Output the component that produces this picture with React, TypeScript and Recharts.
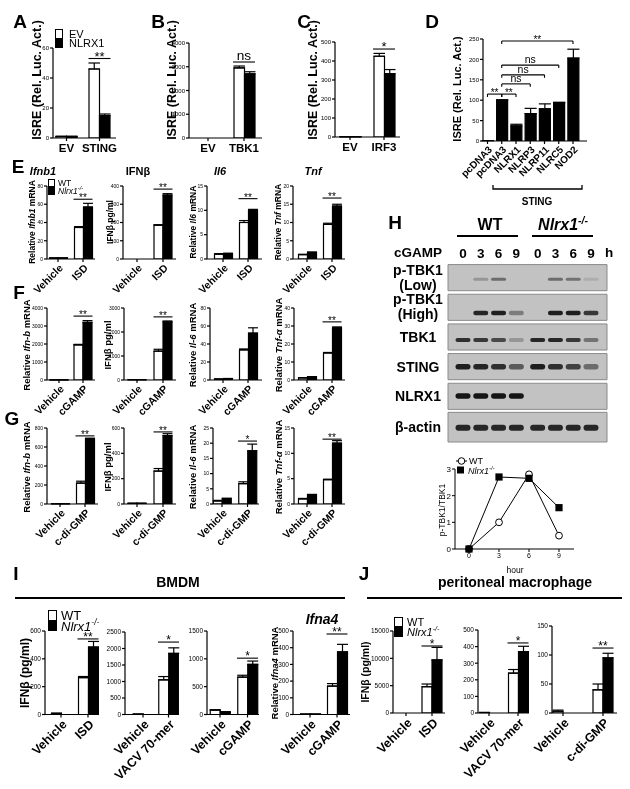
import React from 'react';
import { BarChart, Bar, XAxis, YAxis, ErrorBar, ReferenceLine, LineChart, Line, ScatterChart, Scatter, ReferenceArea } from 'recharts';

const FONT = "'Liberation Sans', Arial, Helvetica, sans-serif";

// ---------------- DATA ----------------
// A
const A_CATS = ['EV', 'STING'];
const A_EV = [1, 46];
const A_EV_SEM = [0.2, 4];
const A_NLRX1 = [1, 15];
const A_NLRX1_SEM = [0.2, 1];
const A_SIG = { level: 53, text: '**' };
// B
const B_CATS = ['EV', 'TBK1'];
const B_EV = [0, 2950];
const B_EV_SEM = [0, 80];
const B_NLRX1 = [0, 2700];
const B_NLRX1_SEM = [0, 90];
const B_SIG = { level: 3200, text: 'ns' };
// C
const C_CATS = ['EV', 'IRF3'];
const C_EV = [1, 425];
const C_EV_SEM = [0, 15];
const C_NLRX1 = [1, 333];
const C_NLRX1_SEM = [0, 22];
const C_SIG = { level: 463, text: '*' };
// D
const D_CATS = ['pcDNA3', 'pcDNA3', 'NLRX1', 'NLRP3', 'NLRP11', 'NLRC5', 'NOD2'];
const D_VALUES = [1, 100, 37, 67, 79, 94, 203];
const D_SEM = [0, 1, 4, 13, 12, 1, 22];
const D_BRACKETS = [
  { from: 2, to: 7, level: 245, text: '**' },
  { from: 2, to: 6, level: 186, text: 'ns' },
  { from: 2, to: 5, level: 162, text: 'ns' },
  { from: 2, to: 4, level: 140, text: 'ns' },
  { from: 1, to: 2, level: 115, text: '**' },
  { from: 2, to: 3, level: 115, text: '**' },
];
// E (ISD)
const E_CATS = ['Vehicle', 'ISD'];
const E_IFNB1_WT = [1, 34.5];
const E_IFNB1_WT_SEM = [0.2, 1];
const E_IFNB1_KO = [1, 57];
const E_IFNB1_KO_SEM = [0.2, 4];
const E_IFNB_WT = [0, 185];
const E_IFNB_WT_SEM = [0, 3];
const E_IFNB_KO = [0, 350];
const E_IFNB_KO_SEM = [0, 8];
const E_IL6_WT = [1.0, 7.5];
const E_IL6_WT_SEM = [0.1, 0.4];
const E_IL6_KO = [1.1, 10.0];
const E_IL6_KO_SEM = [0.1, 0.2];
const E_TNF_WT = [1.2, 9.5];
const E_TNF_WT_SEM = [0.1, 0.3];
const E_TNF_KO = [1.8, 14.5];
const E_TNF_KO_SEM = [0.1, 0.5];
const E_SIGS = [65.5, 383, 12.4, 16.7];
// F (cGAMP)
const F_CATS = ['Vehicle', 'cGAMP'];
const F_IFNB_MRNA_WT = [5, 1950];
const F_IFNB_MRNA_WT_SEM = [0, 30];
const F_IFNB_MRNA_KO = [5, 3200];
const F_IFNB_MRNA_KO_SEM = [0, 100];
const F_IFNB_WT = [10, 1200];
const F_IFNB_WT_SEM = [0, 80];
const F_IFNB_KO = [10, 2420];
const F_IFNB_KO_SEM = [0, 40];
const F_IL6_WT = [1, 33.5];
const F_IL6_WT_SEM = [0.1, 1];
const F_IL6_KO = [1.5, 52];
const F_IL6_KO_SEM = [0.2, 6];
const F_TNF_WT = [1.2, 15];
const F_TNF_WT_SEM = [0.1, 0.3];
const F_TNF_KO = [1.8, 29];
const F_TNF_KO_SEM = [0.1, 0.5];
const F_SIGS = [3550, 2630, 0, 32.3];
// G (c-di-GMP)
const G_CATS = ['Vehicle', 'c-di-GMP'];
const G_IFNB_MRNA_WT = [2, 220];
const G_IFNB_MRNA_WT_SEM = [0, 20];
const G_IFNB_MRNA_KO = [2, 685];
const G_IFNB_MRNA_KO_SEM = [0, 8];
const G_IFNB_WT = [5, 260];
const G_IFNB_WT_SEM = [1, 20];
const G_IFNB_KO = [5, 540];
const G_IFNB_KO_SEM = [1, 15];
const G_IL6_WT = [1.0, 6.7];
const G_IL6_WT_SEM = [0.2, 0.6];
const G_IL6_KO = [1.8, 17.5];
const G_IL6_KO_SEM = [0.1, 2.2];
const G_TNF_WT = [1.0, 4.8];
const G_TNF_WT_SEM = [0.1, 0.1];
const G_TNF_KO = [1.8, 12];
const G_TNF_KO_SEM = [0.1, 0.5];
const G_SIGS = [717, 569, 20.7, 12.8];
// H
const H_HOURS = [0, 3, 6, 9];
const H_RATIO_WT = [0, 1.0, 2.8, 0.5];
const H_RATIO_KO = [0, 2.7, 2.65, 1.55];
const H_LANE_HOURS = ['0', '3', '6', '9'];
const H_ROW_LABELS = [['p-TBK1', '(Low)'], ['p-TBK1', '(High)'], ['TBK1'], ['STING'], ['NLRX1'], ['β-actin']];
const H_WT_BANDS = [
  [0, 0.25, 0.5, 0],
  [0, 0.9, 0.95, 0.4],
  [0.85, 0.8, 0.7, 0.25],
  [0.95, 0.9, 0.85, 0.6],
  [1, 1, 1, 1],
  [0.9, 0.9, 0.9, 0.9],
];
const H_KO_BANDS = [
  [0, 0.5, 0.45, 0.12],
  [0, 0.95, 0.95, 0.8],
  [0.9, 0.9, 0.8, 0.45],
  [0.95, 0.85, 0.75, 0.5],
  [0, 0, 0, 0],
  [0.9, 0.9, 0.9, 0.9],
];
// I (BMDM)
const I_ISD_CATS = ['Vehicle', 'ISD'];
const I_ISD_WT = [8, 265];
const I_ISD_WT_SEM = [1, 8];
const I_ISD_KO = [0, 485];
const I_ISD_KO_SEM = [0, 40];
const I_VACV_CATS = ['Vehicle', 'VACV 70-mer'];
const I_VACV_WT = [10, 1050];
const I_VACV_WT_SEM = [0, 100];
const I_VACV_KO = [0, 1850];
const I_VACV_KO_SEM = [0, 170];
const I_CGAMP_CATS = ['Vehicle', 'cGAMP'];
const I_CGAMP_WT = [80, 670];
const I_CGAMP_WT_SEM = [5, 35];
const I_CGAMP_KO = [45, 900];
const I_CGAMP_KO_SEM = [5, 60];
const I_IFNA4_WT = [2, 170];
const I_IFNA4_WT_SEM = [0, 15];
const I_IFNA4_KO = [2, 375];
const I_IFNA4_KO_SEM = [0, 45];
const I_SIGS = [543, 2195, 1012, 482];
// J (peritoneal macrophage)
const J_ISD_CATS = ['Vehicle', 'ISD'];
const J_ISD_WT = [0, 4800];
const J_ISD_WT_SEM = [0, 500];
const J_ISD_KO = [0, 9700];
const J_ISD_KO_SEM = [0, 2300];
const J_VACV_CATS = ['Vehicle', 'VACV 70-mer'];
const J_VACV_WT = [3, 240];
const J_VACV_WT_SEM = [0, 22];
const J_VACV_KO = [0, 370];
const J_VACV_KO_SEM = [0, 32];
const J_CDG_CATS = ['Vehicle', 'c-di-GMP'];
const J_CDG_WT = [3, 40];
const J_CDG_WT_SEM = [2, 10];
const J_CDG_KO = [0, 95];
const J_CDG_KO_SEM = [0, 8];
const J_SIGS = [12256, 422, 112];

// ---------------- helpers ----------------
type Series = { key: string; vals: number[]; sem: number[]; fill: string };
type Bracket = { from: number; to: number; level: number; text: string };
type Cfg = {
  x0: number; xe: number; c1: number; cN: number; yTop: number; yBot: number;
  max: number; ticks: number[]; cats: string[]; series: Series[];
  barW: number; tickFs: number; catFs: number; rotate: boolean;
  sig?: { level: number; text: string }; brackets?: Bracket[];
  starFs?: number; drop?: number;
};

const pair = (wt: number[], wtSem: number[], ko: number[], koSem: number[]): Series[] => [
  { key: 'wt', vals: wt, sem: wtSem, fill: '#fff' },
  { key: 'ko', vals: ko, sem: koSem, fill: '#000' },
];
const ticksBy = (max: number, step: number) => {
  const t: number[] = [];
  for (let v = 0; v <= max + 1e-9; v += step) t.push(v);
  return t;
};

function BarPanel({ cfg }: { cfg: Cfg }) {
  const ML = 46, MR = 10, MT = 30, XH = 95;
  const n = cfg.cats.length;
  const u = (cfg.cN - cfg.c1) / (n - 1);
  const d0 = 1 - (cfg.c1 - cfg.x0) / u;
  const d1 = n + (cfg.xe - cfg.cN) / u;
  const data = cfg.cats.map((c, i) => {
    const row: any = { pos: i + 1, name: c };
    cfg.series.forEach((s) => {
      row[s.key] = s.vals[i];
      row[s.key + 'E'] = [0, s.sem[i]];
    });
    return row;
  });
  const plotH = cfg.yBot - cfg.yTop;
  const width = cfg.xe - cfg.x0 + ML + MR;
  const height = MT + plotH + XH;
  const brackets: (Bracket & { drop: number })[] = [];
  if (cfg.sig) {
    const h = (cfg.barW + 0.5) / u;
    brackets.push({ from: n - h, to: n + h, level: cfg.sig.level, text: cfg.sig.text, drop: 0 });
  }
  (cfg.brackets || []).forEach((b) => brackets.push({ ...b, drop: cfg.drop || 0 }));
  const starFs = cfg.starFs || 10;
  const Tick = (p: any) => {
    const lab = cfg.cats[Math.round(p.payload.value) - 1] ?? '';
    if (cfg.rotate) {
      return (
        <g transform={`translate(${p.x},${p.y})`}>
          <text x={0} y={0} dy={cfg.catFs * 0.75} textAnchor="end" transform="rotate(-45)" fontSize={cfg.catFs} fontWeight="bold" fill="#000" fontFamily={FONT}>{lab}</text>
        </g>
      );
    }
    return <text x={p.x} y={p.y} dy={cfg.catFs * 0.85} textAnchor="middle" fontSize={cfg.catFs} fontWeight="bold" fill="#000" fontFamily={FONT}>{lab}</text>;
  };
  return (
    <div style={{ position: 'absolute', left: cfg.x0 - ML, top: cfg.yTop - MT }}>
      <BarChart width={width} height={height} data={data} margin={{ top: MT, right: MR, left: 0, bottom: 0 }} barGap={0}>
        <XAxis type="number" dataKey="pos" domain={[d0, d1]} allowDataOverflow ticks={cfg.cats.map((_, i) => i + 1)} interval={0} height={XH} tickSize={3} tickMargin={1} stroke="#000" strokeWidth={1.2} tick={Tick} />
        <YAxis type="number" domain={[0, cfg.max]} allowDataOverflow ticks={cfg.ticks} interval={0} width={ML} tickSize={3} tickMargin={1} stroke="#000" strokeWidth={1.2} tick={{ fontSize: cfg.tickFs, fill: '#000', fontFamily: FONT }} />
        {cfg.series.map((s) => (
          <Bar key={s.key} dataKey={s.key} fill={s.fill} stroke="#000" strokeWidth={1.2} barSize={cfg.barW} isAnimationActive={false}>
            <ErrorBar dataKey={s.key + 'E'} width={cfg.barW * 0.55} stroke="#000" strokeWidth={1.2} direction="y" />
          </Bar>
        ))}
        {brackets.map((b, i) => (
          <ReferenceLine key={'b' + i} segment={[{ x: b.from, y: b.level }, { x: b.to, y: b.level }]} stroke="#000" strokeWidth={1.1} ifOverflow="visible"
            label={{ value: b.text, position: 'top', offset: b.text === 'ns' ? 2 : -2, fontSize: b.text === 'ns' ? starFs * 1.05 : starFs, fill: '#000', fontFamily: FONT }} />
        ))}
        {brackets.filter((b) => b.drop > 0).flatMap((b, i) => [
          <ReferenceLine key={'dl' + i} segment={[{ x: b.from, y: b.level }, { x: b.from, y: b.level - b.drop }]} stroke="#000" strokeWidth={1.1} ifOverflow="visible" />,
          <ReferenceLine key={'dr' + i} segment={[{ x: b.to, y: b.level }, { x: b.to, y: b.level - b.drop }]} stroke="#000" strokeWidth={1.1} ifOverflow="visible" />,
        ])}
      </BarChart>
    </div>
  );
}

function Txt({ x, y, fs, bold = false, italic = false, rot = false, anchor = 'middle', children }: any) {
  const tx = anchor === 'middle' ? '-50%' : anchor === 'start' ? '0' : '-100%';
  return (
    <div style={{
      position: 'absolute', left: x, top: y,
      transform: rot ? 'translate(-50%,-50%) rotate(-90deg)' : `translate(${tx},-50%)`,
      fontSize: fs, fontWeight: bold ? 700 : 400, fontStyle: italic ? 'italic' : 'normal',
      whiteSpace: 'nowrap', lineHeight: 1, color: '#000',
    }}>{children}</div>
  );
}

const KO = <i>Nlrx1<sup style={{ fontSize: '0.65em', lineHeight: 0 }}>-/-</sup></i>;

function BoxLegend({ x, y, w, h, fs, gap, labels }: any) {
  return (
    <>
      <div style={{ position: 'absolute', left: x, top: y, width: w, height: h, border: '1.3px solid #000', boxSizing: 'border-box', background: '#fff' }} />
      <div style={{ position: 'absolute', left: x, top: y + h, width: w, height: h, background: '#000' }} />
      <Txt x={x + w + gap} y={y + h * 0.5} fs={fs} anchor="start">{labels[0]}</Txt>
      <Txt x={x + w + gap} y={y + h * 1.5} fs={fs} anchor="start">{labels[1]}</Txt>
    </>
  );
}

function HLine({ x1, x2, y, w = 1.5 }: any) {
  return <div style={{ position: 'absolute', left: x1, top: y - w / 2, width: x2 - x1, height: w, background: '#000' }} />;
}

// --------- H: time course line chart ---------
function RatioChart() {
  const ML = 40, MT = 20, MR = 14, XH = 26;
  const left = 455, right = 574, top = 469, bot = 549;
  const data = H_HOURS.map((h, i) => ({ h, wt: H_RATIO_WT[i], ko: H_RATIO_KO[i] }));
  const OpenDot = (p: any) => <circle key={'o' + p.index} cx={p.cx} cy={p.cy} r={3.4} fill="#fff" stroke="#000" strokeWidth={1} />;
  const SqDot = (p: any) => <rect key={'s' + p.index} x={p.cx - 3.6} y={p.cy - 3.6} width={7.2} height={7.2} fill="#000" />;
  return (
    <div style={{ position: 'absolute', left: left - ML, top: top - MT }}>
      <LineChart width={right - left + ML + MR} height={bot - top + MT + XH} data={data} margin={{ top: MT, right: MR, left: 0, bottom: 0 }}>
        <XAxis type="number" dataKey="h" domain={[-1.4, 10.5]} allowDataOverflow ticks={[0, 3, 6, 9]} interval={0} height={XH} tickSize={3} tickMargin={1} stroke="#000" tick={{ fontSize: 7, fill: '#000', fontFamily: FONT }} />
        <YAxis type="number" domain={[0, 3]} ticks={[0, 1, 2, 3]} interval={0} width={ML} tickSize={3} tickMargin={1} stroke="#000" tick={{ fontSize: 8, fill: '#000', fontFamily: FONT }} />
        <Line dataKey="wt" stroke="#000" strokeWidth={1} dot={OpenDot} isAnimationActive={false} />
        <Line dataKey="ko" stroke="#000" strokeWidth={1} dot={SqDot} isAnimationActive={false} />
      </LineChart>
    </div>
  );
}

// --------- H: western blot ---------
function Blot() {
  const L = 448, R = 607, T = 264, B = 442, XH = 22;
  const laneX = (g: number, l: number) => 1 + g * 4.2 + l;
  const u = (591 - 463) / 7.2;
  const d0 = 1 - (463 - L) / u;
  const d1 = 8.2 + (R - 591) / u;
  const offs = [0.51, 0.65, 0.56, 0.46, 0.45, 0.52];
  const thick = [3, 4.5, 4, 5.5, 5.5, 6];
  const bands: any[] = [];
  H_ROW_LABELS.forEach((_, r) => {
    [H_WT_BANDS, H_KO_BANDS].forEach((src, g) => {
      src[r].forEach((v, l) => {
        if (v > 0) bands.push({ x: laneX(g, l), y: r + offs[r], v, t: thick[r] });
      });
    });
  });
  const ticks = [0, 1].flatMap((g) => [0, 1, 2, 3].map((l) => laneX(g, l)));
  const BandShape = (p: any) => (
    <rect x={p.cx - 7.5} y={p.cy - p.payload.t / 2} width={15} height={p.payload.t} rx={p.payload.t / 2}
      fill="#151515" fillOpacity={p.payload.v} style={{ filter: 'blur(0.45px)' }} />
  );
  const LaneTick = (p: any) => {
    const idx = ticks.findIndex((t) => Math.abs(t - p.payload.value) < 1e-6);
    return <text x={p.x} y={p.y} textAnchor="middle" fontSize={13.5} fontWeight="bold" fill="#000" fontFamily={FONT}>{H_LANE_HOURS[idx % 4]}</text>;
  };
  return (
    <div style={{ position: 'absolute', left: L, top: T - XH }}>
      <ScatterChart width={R - L} height={B - T + XH} margin={{ top: 0, right: 0, left: 0, bottom: 0 }}>
        <XAxis type="number" dataKey="x" orientation="top" domain={[d0, d1]} allowDataOverflow ticks={ticks} interval={0} height={XH} axisLine={false} tickLine={false} tickSize={0} tickMargin={6} tick={LaneTick} />
        <YAxis type="number" dataKey="y" domain={[0, 6]} reversed hide width={0} allowDataOverflow />
        {H_ROW_LABELS.map((_, r) => (
          <ReferenceArea key={'ra' + r} x1={d0} x2={d1} y1={r === 5 ? 5 : r + 0.02} y2={r === 5 ? 6 : r + 0.9}
            fill="#c2c2c2" fillOpacity={1} stroke="#8a8a8a" strokeWidth={1} ifOverflow="visible" />
        ))}
        <Scatter data={bands} shape={BandShape} isAnimationActive={false} />
      </ScatterChart>
    </div>
  );
}

// ---------------- configs ----------------
const E_Y = { yTop: 186, yBot: 259 };
const F_Y = { yTop: 308, yBot: 380 };
const G_Y = { yTop: 428, yBot: 504 };
const small = { barW: 9, tickFs: 5, catFs: 10.5, rotate: true, starFs: 10 };

const cfgA: Cfg = { x0: 53, xe: 116, c1: 66.5, cN: 99.5, yTop: 48, yBot: 138, max: 60, ticks: ticksBy(60, 20), cats: A_CATS,
  series: pair(A_EV, A_EV_SEM, A_NLRX1, A_NLRX1_SEM), barW: 10.5, tickFs: 6, catFs: 11.5, rotate: false, sig: A_SIG, starFs: 13 };
const cfgB: Cfg = { x0: 189, xe: 262, c1: 208, cN: 244, yTop: 43, yBot: 138, max: 4000, ticks: ticksBy(4000, 1000), cats: B_CATS,
  series: pair(B_EV, B_EV_SEM, B_NLRX1, B_NLRX1_SEM), barW: 10.5, tickFs: 6, catFs: 11.5, rotate: false, sig: B_SIG, starFs: 13 };
const cfgC: Cfg = { x0: 335, xe: 400, c1: 350, cN: 384, yTop: 42, yBot: 137, max: 500, ticks: ticksBy(500, 100), cats: C_CATS,
  series: pair(C_EV, C_EV_SEM, C_NLRX1, C_NLRX1_SEM), barW: 10.5, tickFs: 6, catFs: 11.5, rotate: false, sig: C_SIG, starFs: 13 };
const cfgD: Cfg = { x0: 483, xe: 587, c1: 487.5, cN: 573, yTop: 39, yBot: 141, max: 250, ticks: ticksBy(250, 50), cats: D_CATS,
  series: [{ key: 'v', vals: D_VALUES, sem: D_SEM, fill: '#000' }], barW: 11, tickFs: 6, catFs: 10, rotate: true,
  brackets: D_BRACKETS, starFs: 10, drop: 7 };

const cfgE: Cfg[] = [
  { x0: 47, xe: 95, c1: 58, cN: 83, ...E_Y, max: 80, ticks: ticksBy(80, 20), cats: E_CATS, series: pair(E_IFNB1_WT, E_IFNB1_WT_SEM, E_IFNB1_KO, E_IFNB1_KO_SEM), ...small, sig: { level: E_SIGS[0], text: '**' } },
  { x0: 123, xe: 176, c1: 137, cN: 163, ...E_Y, max: 400, ticks: ticksBy(400, 100), cats: E_CATS, series: pair(E_IFNB_WT, E_IFNB_WT_SEM, E_IFNB_KO, E_IFNB_KO_SEM), ...small, sig: { level: E_SIGS[1], text: '**' } },
  { x0: 207, xe: 262, c1: 223, cN: 248, ...E_Y, max: 15, ticks: ticksBy(15, 5), cats: E_CATS, series: pair(E_IL6_WT, E_IL6_WT_SEM, E_IL6_KO, E_IL6_KO_SEM), ...small, sig: { level: E_SIGS[2], text: '**' } },
  { x0: 293, xe: 345, c1: 307, cN: 332, ...E_Y, max: 20, ticks: ticksBy(20, 5), cats: E_CATS, series: pair(E_TNF_WT, E_TNF_WT_SEM, E_TNF_KO, E_TNF_KO_SEM), ...small, sig: { level: E_SIGS[3], text: '**' } },
];
const cfgF: Cfg[] = [
  { x0: 47, xe: 95, c1: 59, cN: 83, ...F_Y, max: 4000, ticks: ticksBy(4000, 1000), cats: F_CATS, series: pair(F_IFNB_MRNA_WT, F_IFNB_MRNA_WT_SEM, F_IFNB_MRNA_KO, F_IFNB_MRNA_KO_SEM), ...small, sig: { level: F_SIGS[0], text: '**' } },
  { x0: 124, xe: 176, c1: 137, cN: 163, ...F_Y, max: 3000, ticks: ticksBy(3000, 1000), cats: F_CATS, series: pair(F_IFNB_WT, F_IFNB_WT_SEM, F_IFNB_KO, F_IFNB_KO_SEM), ...small, sig: { level: F_SIGS[1], text: '**' } },
  { x0: 210, xe: 262, c1: 223, cN: 248, ...F_Y, max: 80, ticks: ticksBy(80, 20), cats: F_CATS, series: pair(F_IL6_WT, F_IL6_WT_SEM, F_IL6_KO, F_IL6_KO_SEM), ...small },
  { x0: 294, xe: 345, c1: 307, cN: 332, ...F_Y, max: 40, ticks: ticksBy(40, 10), cats: F_CATS, series: pair(F_TNF_WT, F_TNF_WT_SEM, F_TNF_KO, F_TNF_KO_SEM), ...small, sig: { level: F_SIGS[3], text: '**' } },
];
const cfgG: Cfg[] = [
  { x0: 47, xe: 98, c1: 60, cN: 85, ...G_Y, max: 800, ticks: ticksBy(800, 200), cats: G_CATS, series: pair(G_IFNB_MRNA_WT, G_IFNB_MRNA_WT_SEM, G_IFNB_MRNA_KO, G_IFNB_MRNA_KO_SEM), ...small, sig: { level: G_SIGS[0], text: '**' } },
  { x0: 124, xe: 176, c1: 137, cN: 163, ...G_Y, max: 600, ticks: ticksBy(600, 200), cats: G_CATS, series: pair(G_IFNB_WT, G_IFNB_WT_SEM, G_IFNB_KO, G_IFNB_KO_SEM), ...small, sig: { level: G_SIGS[1], text: '**' } },
  { x0: 213, xe: 259, c1: 222, cN: 247.5, ...G_Y, max: 25, ticks: ticksBy(25, 5), cats: G_CATS, series: pair(G_IL6_WT, G_IL6_WT_SEM, G_IL6_KO, G_IL6_KO_SEM), ...small, sig: { level: G_SIGS[2], text: '*' } },
  { x0: 294, xe: 345, c1: 307, cN: 332, ...G_Y, max: 15, ticks: ticksBy(15, 5), cats: G_CATS, series: pair(G_TNF_WT, G_TNF_WT_SEM, G_TNF_KO, G_TNF_KO_SEM), ...small, sig: { level: G_SIGS[3], text: '**' } },
];
const big = { barW: 10, tickFs: 6.5, catFs: 12.5, rotate: true, starFs: 12 };
const cfgI: Cfg[] = [
  { x0: 45, xe: 99, c1: 61, cN: 88, yTop: 631, yBot: 714.5, max: 600, ticks: ticksBy(600, 200), cats: I_ISD_CATS, series: pair(I_ISD_WT, I_ISD_WT_SEM, I_ISD_KO, I_ISD_KO_SEM), ...big, sig: { level: I_SIGS[0], text: '**' } },
  { x0: 125, xe: 179, c1: 143, cN: 168.5, yTop: 632, yBot: 714.5, max: 2500, ticks: ticksBy(2500, 500), cats: I_VACV_CATS, series: pair(I_VACV_WT, I_VACV_WT_SEM, I_VACV_KO, I_VACV_KO_SEM), ...big, sig: { level: I_SIGS[1], text: '*' } },
  { x0: 207, xe: 259, c1: 220, cN: 247.5, yTop: 631, yBot: 714.5, max: 1500, ticks: ticksBy(1500, 500), cats: I_CGAMP_CATS, series: pair(I_CGAMP_WT, I_CGAMP_WT_SEM, I_CGAMP_KO, I_CGAMP_KO_SEM), ...big, sig: { level: I_SIGS[2], text: '*' } },
  { x0: 293, xe: 350, c1: 310, cN: 337, yTop: 631, yBot: 714.5, max: 500, ticks: ticksBy(500, 100), cats: I_CGAMP_CATS, series: pair(I_IFNA4_WT, I_IFNA4_WT_SEM, I_IFNA4_KO, I_IFNA4_KO_SEM), ...big, sig: { level: I_SIGS[3], text: '**' } },
];
const cfgJ: Cfg[] = [
  { x0: 393, xe: 445, c1: 406, cN: 432, yTop: 631, yBot: 713, max: 15000, ticks: ticksBy(15000, 5000), cats: J_ISD_CATS, series: pair(J_ISD_WT, J_ISD_WT_SEM, J_ISD_KO, J_ISD_KO_SEM), ...big, sig: { level: J_SIGS[0], text: '*' } },
  { x0: 478, xe: 529, c1: 489, cN: 518, yTop: 630, yBot: 713, max: 500, ticks: ticksBy(500, 100), cats: J_VACV_CATS, series: pair(J_VACV_WT, J_VACV_WT_SEM, J_VACV_KO, J_VACV_KO_SEM), ...big, sig: { level: J_SIGS[1], text: '*' } },
  { x0: 552, xe: 617, c1: 563, cN: 603, yTop: 626, yBot: 713, max: 150, ticks: ticksBy(150, 50), cats: J_CDG_CATS, series: pair(J_CDG_WT, J_CDG_WT_SEM, J_CDG_KO, J_CDG_KO_SEM), ...big, sig: { level: J_SIGS[2], text: '**' } },
];

export default function App() {
  const L = 19;
  return (
    <div style={{ position: 'fixed', left: 0, top: 0, width: 630, height: 789, background: '#fff', fontFamily: FONT, overflow: 'hidden', filter: 'grayscale(1)' }}>
      <style>{`.recharts-surface{overflow:visible}`}</style>
      {/* panel letters */}
      <Txt x={20} y={21} fs={L} bold>A</Txt>
      <Txt x={158} y={21} fs={L} bold>B</Txt>
      <Txt x={304} y={21} fs={L} bold>C</Txt>
      <Txt x={432} y={21} fs={L} bold>D</Txt>
      <Txt x={18} y={166} fs={L} bold>E</Txt>
      <Txt x={19} y={292} fs={L} bold>F</Txt>
      <Txt x={12} y={418} fs={L} bold>G</Txt>
      <Txt x={395} y={222} fs={L} bold>H</Txt>
      <Txt x={16} y={573} fs={L} bold>I</Txt>
      <Txt x={364} y={573} fs={L} bold>J</Txt>

      {/* A-D */}
      <BarPanel cfg={cfgA} />
      <BarPanel cfg={cfgB} />
      <BarPanel cfg={cfgC} />
      <BarPanel cfg={cfgD} />
      <Txt x={37} y={80} fs={12.5} bold rot>ISRE (Rel. Luc. Act.)</Txt>
      <Txt x={172} y={80} fs={12.5} bold rot>ISRE (Rel. Luc. Act.)</Txt>
      <Txt x={313} y={80} fs={12.5} bold rot>ISRE (Rel. Luc. Act.)</Txt>
      <Txt x={457} y={89} fs={11} bold rot>ISRE (Rel. Luc. Act.)</Txt>
      <BoxLegend x={55} y={29} w={8} h={9.5} fs={11} gap={6} labels={['EV', 'NLRX1']} />
      <svg style={{ position: 'absolute', left: 0, top: 0, overflow: 'visible' }} width={630} height={789}>
        <path d="M493 185 L493 189 L582 189 L582 185" fill="none" stroke="#000" strokeWidth={1.3} />
      </svg>
      <Txt x={537} y={202} fs={10} bold>STING</Txt>

      {/* E */}
      {cfgE.map((c, i) => <BarPanel key={'e' + i} cfg={c} />)}
      <Txt x={43} y={171} fs={11} bold italic>Ifnb1</Txt>
      <Txt x={138} y={171} fs={11} bold>IFNβ</Txt>
      <Txt x={220} y={171} fs={11} bold italic>Il6</Txt>
      <Txt x={313} y={171} fs={11} bold italic>Tnf</Txt>
      <Txt x={32} y={222} fs={8.5} bold rot>Relative <i>Ifnb1</i> mRNA</Txt>
      <Txt x={110} y={222} fs={8.5} bold rot>IFNβ pg/ml</Txt>
      <Txt x={193} y={222} fs={8.5} bold rot>Relative <i>Il6</i> mRNA</Txt>
      <Txt x={278} y={222} fs={8.5} bold rot>Relative <i>Tnf</i> mRNA</Txt>
      <BoxLegend x={48} y={179} w={7} h={8} fs={8.5} gap={3} labels={['WT', KO]} />

      {/* F */}
      {cfgF.map((c, i) => <BarPanel key={'f' + i} cfg={c} />)}
      <Txt x={27} y={345} fs={9.5} bold rot>Relative <i>Ifn-b</i> mRNA</Txt>
      <Txt x={108} y={345} fs={9.5} bold rot>IFNβ pg/ml</Txt>
      <Txt x={193} y={345} fs={9.5} bold rot>Relative <i>Il-6</i> mRNA</Txt>
      <Txt x={279} y={345} fs={9.5} bold rot>Relative <i>Tnf-α</i> mRNA</Txt>

      {/* G */}
      {cfgG.map((c, i) => <BarPanel key={'g' + i} cfg={c} />)}
      <Txt x={27} y={467} fs={9.5} bold rot>Relative <i>Ifn-b</i> mRNA</Txt>
      <Txt x={108} y={467} fs={9.5} bold rot>IFNβ pg/ml</Txt>
      <Txt x={193} y={467} fs={9.5} bold rot>Relative <i>Il-6</i> mRNA</Txt>
      <Txt x={279} y={467} fs={9.5} bold rot>Relative <i>Tnf-α</i> mRNA</Txt>

      {/* H */}
      <Txt x={490} y={225} fs={16} bold>WT</Txt>
      <Txt x={563} y={225} fs={16} bold>{KO}</Txt>
      <HLine x1={457} x2={518} y={236} />
      <HLine x1={532} x2={593} y={236} />
      <Txt x={418} y={253} fs={13.5} bold>cGAMP</Txt>
      <Txt x={609} y={253} fs={13.5} bold>h</Txt>
      <Blot />
      {H_ROW_LABELS.map((lines, r) => {
        const yc = r === 5 ? 264 + 5.5 * 29.67 : 264 + (r + 0.46) * 29.67;
        return lines.map((t, k) => (
          <Txt key={'rl' + r + k} x={418} y={yc + (lines.length === 2 ? (k === 0 ? -8 : 7) : 0)} fs={14} bold>{t}</Txt>
        ));
      })}
      <RatioChart />
      <Txt x={442} y={510} fs={8.5} rot>p-TBK1/TBK1</Txt>
      <Txt x={515} y={570} fs={8.5}>hour</Txt>
      <svg style={{ position: 'absolute', left: 0, top: 0, overflow: 'visible', pointerEvents: 'none' }} width={630} height={789}>
        <line x1={456} y1={461} x2={467} y2={461} stroke="#000" strokeWidth={1} />
        <circle cx={461.5} cy={461} r={3.3} fill="#fff" stroke="#000" strokeWidth={1} />
        <rect x={457} y={466.5} width={7} height={7} fill="#000" />
      </svg>
      <Txt x={469} y={461} fs={9} anchor="start">WT</Txt>
      <Txt x={468} y={471} fs={9} anchor="start">{KO}</Txt>

      {/* I */}
      <Txt x={178} y={582} fs={14} bold>BMDM</Txt>
      <HLine x1={15} x2={345} y={598} />
      {cfgI.map((c, i) => <BarPanel key={'i' + i} cfg={c} />)}
      <Txt x={25} y={673} fs={12} bold rot>IFNβ (pg/ml)</Txt>
      <Txt x={275} y={673} fs={9.5} bold rot>Relative <i>Ifna4</i> mRNA</Txt>
      <Txt x={322} y={619} fs={14} bold italic>Ifna4</Txt>
      <BoxLegend x={48} y={610} w={9} h={10.5} fs={13} gap={4} labels={['WT', KO]} />

      {/* J */}
      <Txt x={515} y={582} fs={14} bold>peritoneal macrophage</Txt>
      <HLine x1={367} x2={622} y={598} />
      {cfgJ.map((c, i) => <BarPanel key={'j' + i} cfg={c} />)}
      <Txt x={365} y={672} fs={10.5} bold rot>IFNβ (pg/ml)</Txt>
      <BoxLegend x={394} y={617} w={9} h={10} fs={11} gap={4} labels={['WT', KO]} />
    </div>
  );
}
